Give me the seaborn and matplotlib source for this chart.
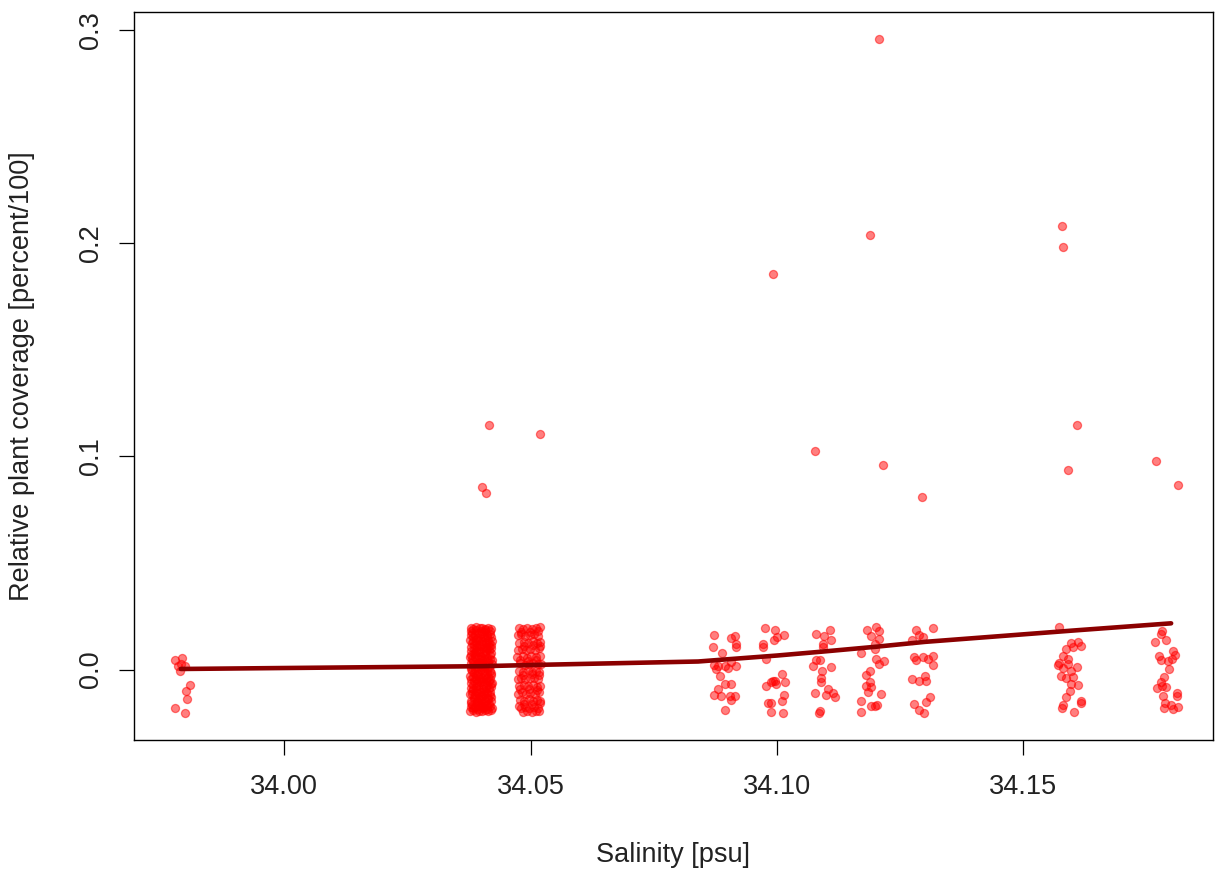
import numpy as np
import pandas as pd
import matplotlib
matplotlib.use("Agg")
import matplotlib.pyplot as plt
import seaborn as sns

# ---------------- data ----------------
sal_3398 = [33.9778, 33.9793, 33.9785, 33.9791, 33.9788, 33.9798, 33.9808, 33.9800, 33.9803, 33.9778, 33.9799]
cov_3398 = [0.0045, 0.0055, 0.0015, 0.0027, -0.0005, 0.0019, -0.0070, -0.0102, -0.0137, -0.0178, -0.0205]

sal_3404 = [
    34.0378, 34.0384, 34.0390, 34.0397, 34.0402, 34.0408, 34.0414, 34.0420,
    34.0381, 34.0387, 34.0393, 34.0399, 34.0405, 34.0411, 34.0417, 34.0379,
    34.0377, 34.0383, 34.0389, 34.0396, 34.0401, 34.0407, 34.0413, 34.0421,
    34.0380, 34.0386, 34.0392, 34.0398, 34.0404, 34.0410, 34.0416, 34.0419,
    34.0378, 34.0385, 34.0390, 34.0396, 34.0403, 34.0409, 34.0415, 34.0420,
    34.0382, 34.0388, 34.0394, 34.0400, 34.0406, 34.0412, 34.0418, 34.0377,
    34.0379, 34.0384, 34.0391, 34.0397, 34.0402, 34.0408, 34.0414, 34.0421,
    34.0381, 34.0387, 34.0393, 34.0399, 34.0405, 34.0411, 34.0417, 34.0378,
    34.0377, 34.0383, 34.0389, 34.0395, 34.0401, 34.0407, 34.0413, 34.0419,
    34.0380, 34.0386, 34.0392, 34.0398, 34.0404, 34.0410, 34.0416, 34.0421,
    34.0378, 34.0384, 34.0390, 34.0396, 34.0403, 34.0409, 34.0415, 34.0420,
    34.0382, 34.0388, 34.0394, 34.0400, 34.0406, 34.0412, 34.0418, 34.0377,
    34.0379, 34.0385, 34.0391, 34.0397, 34.0402, 34.0408, 34.0414, 34.0420,
    34.0381, 34.0387, 34.0393, 34.0399, 34.0405, 34.0411, 34.0417, 34.0378,
    34.0377, 34.0383, 34.0389, 34.0395, 34.0401, 34.0407, 34.0413, 34.0419,
    34.0415, 34.0401, 34.0409,
]
cov_3404 = [
    0.0197, 0.0191, 0.0198, 0.0193, 0.0196, 0.0190, 0.0197, 0.0192,
    0.0172, 0.0163, 0.0170, 0.0165, 0.0174, 0.0161, 0.0168, 0.0160,
    0.0141, 0.0135, 0.0144, 0.0137, 0.0132, 0.0146, 0.0139, 0.0134,
    0.0108, 0.0116, 0.0106, 0.0113, 0.0118, 0.0104, 0.0111, 0.0115,
    0.0086, 0.0079, 0.0088, 0.0081, 0.0077, 0.0085, 0.0090, 0.0078,
    0.0051, 0.0058, 0.0053, 0.0060, 0.0049, 0.0056, 0.0052, 0.0059,
    0.0030, 0.0023, 0.0031, 0.0025, 0.0029, 0.0021, 0.0033, 0.0026,
    -0.0005, 0.0003, -0.0007, 0.0001, -0.0003, 0.0004, -0.0006, 0.0002,
    -0.0028, -0.0035, -0.0026, -0.0033, -0.0037, -0.0029, -0.0034, -0.0025,
    -0.0061, -0.0054, -0.0063, -0.0056, -0.0052, -0.0060, -0.0055, -0.0062,
    -0.0084, -0.0091, -0.0082, -0.0089, -0.0093, -0.0085, -0.0088, -0.0081,
    -0.0112, -0.0118, -0.0110, -0.0120, -0.0114, -0.0109, -0.0117, -0.0113,
    -0.0146, -0.0139, -0.0148, -0.0141, -0.0137, -0.0145, -0.0140, -0.0147,
    -0.0167, -0.0174, -0.0165, -0.0172, -0.0176, -0.0168, -0.0171, -0.0173,
    -0.0195, -0.0190, -0.0197, -0.0192, -0.0194, -0.0189, -0.0196, -0.0191,
    0.1149, 0.0858, 0.0830,
]
# further readings inside the dense 34.04 block
sal_3404b = [
    34.0380, 34.0389, 34.0399, 34.0408, 34.0417,
    34.0384, 34.0394, 34.0403, 34.0412, 34.0420,
    34.0381, 34.0390, 34.0398, 34.0409, 34.0416,
    34.0385, 34.0393, 34.0404, 34.0411, 34.0419,
    34.0379, 34.0388, 34.0400, 34.0407, 34.0418,
    34.0383, 34.0395, 34.0402, 34.0413, 34.0421,
    34.0380, 34.0391, 34.0399, 34.0408, 34.0416,
    34.0386, 34.0394, 34.0403, 34.0412, 34.0420,
    34.0378, 34.0389, 34.0398, 34.0409, 34.0417,
    34.0384, 34.0393, 34.0404, 34.0411, 34.0419,
    34.0381, 34.0390, 34.0400, 34.0407, 34.0418,
    34.0385, 34.0395, 34.0402, 34.0413, 34.0420,
    34.0379, 34.0391, 34.0399, 34.0408, 34.0416,
    34.0383, 34.0394, 34.0403, 34.0412, 34.0421,
]
cov_3404b = [
    0.0182, 0.0185, 0.0179, 0.0184, 0.0180,
    0.0153, 0.0150, 0.0156, 0.0151, 0.0155,
    0.0125, 0.0128, 0.0122, 0.0127, 0.0124,
    0.0097, 0.0094, 0.0099, 0.0095, 0.0100,
    0.0069, 0.0072, 0.0066, 0.0071, 0.0067,
    0.0041, 0.0038, 0.0044, 0.0039, 0.0043,
    0.0012, 0.0015, 0.0010, 0.0014, 0.0011,
    -0.0016, -0.0019, -0.0013, -0.0018, -0.0014,
    -0.0045, -0.0042, -0.0047, -0.0043, -0.0046,
    -0.0072, -0.0075, -0.0070, -0.0074, -0.0069,
    -0.0101, -0.0098, -0.0103, -0.0099, -0.0104,
    -0.0129, -0.0132, -0.0126, -0.0131, -0.0127,
    -0.0157, -0.0154, -0.0159, -0.0155, -0.0160,
    -0.0182, -0.0185, -0.0180, -0.0184, -0.0181,
]

sal_3405 = [
    34.0476, 34.0485, 34.0493, 34.0502, 34.0511, 34.0519,
    34.0480, 34.0489, 34.0498, 34.0506, 34.0515, 34.0474,
    34.0477, 34.0486, 34.0495, 34.0504, 34.0512, 34.0520,
    34.0482, 34.0490, 34.0499, 34.0508, 34.0516, 34.0475,
    34.0473, 34.0484, 34.0493, 34.0501, 34.0510, 34.0519,
    34.0479, 34.0488, 34.0496, 34.0505, 34.0514, 34.0521,
    34.0476, 34.0485, 34.0494, 34.0503, 34.0511, 34.0518,
    34.0481, 34.0489, 34.0498, 34.0507, 34.0515, 34.0474,
    34.0477, 34.0486, 34.0495, 34.0504, 34.0512, 34.0520,
    34.0482, 34.0491, 34.0499, 34.0508, 34.0517, 34.0475,
    34.0478, 34.0487, 34.0496, 34.0505, 34.0513, 34.0520,
    34.0480, 34.0489, 34.0497, 34.0506, 34.0515, 34.0476,
    34.0484, 34.0493, 34.0502, 34.0510, 34.0518,
    34.0481, 34.0499, 34.0514, 34.0487, 34.0505, 34.0519,
    34.0478, 34.0495, 34.0511, 34.0484, 34.0502, 34.0517,
    34.0479, 34.0497, 34.0513, 34.0486, 34.0503, 34.0520,
    34.0520,
]
cov_3405 = [
    0.0196, 0.0191, 0.0197, 0.0189, 0.0194, 0.0198,
    0.0165, 0.0158, 0.0160, 0.0166, 0.0157, 0.0163,
    0.0125, 0.0131, 0.0124, 0.0132, 0.0127, 0.0129,
    0.0097, 0.0090, 0.0096, 0.0092, 0.0099, 0.0093,
    0.0058, 0.0064, 0.0056, 0.0062, 0.0057, 0.0063,
    0.0029, 0.0022, 0.0027, 0.0031, 0.0024, 0.0028,
    -0.0005, -0.0011, -0.0004, -0.0010, -0.0006, -0.0012,
    -0.0039, -0.0045, -0.0041, -0.0037, -0.0046, -0.0043,
    -0.0079, -0.0073, -0.0078, -0.0072, -0.0080, -0.0075,
    -0.0107, -0.0113, -0.0108, -0.0114, -0.0106, -0.0112,
    -0.0141, -0.0147, -0.0140, -0.0146, -0.0142, -0.0148,
    -0.0180, -0.0174, -0.0178, -0.0175, -0.0181, -0.0172,
    -0.0197, -0.0193, -0.0198, -0.0194, -0.0196,
    0.0178, 0.0176, 0.0181, 0.0111, 0.0114, 0.0109,
    0.0045, 0.0042, 0.0047, -0.0024, -0.0021, -0.0026,
    -0.0093, -0.0090, -0.0095, -0.0160, -0.0163, -0.0158,
    0.1106,
]

sal_3409 = [34.0873, 34.0907, 34.0914, 34.0916, 34.0916, 34.0871, 34.0889, 34.0873,
            34.0881, 34.0894, 34.0900, 34.0917, 34.0885, 34.0880, 34.0895, 34.0906,
            34.0873, 34.0887, 34.0904, 34.0914, 34.0907, 34.0894, 34.0877, 34.0907]
cov_3409 = [0.0164, 0.0149, 0.0156, 0.0122, 0.0105, 0.0108, 0.0078, 0.0022,
            0.0019, 0.0019, 0.0006, 0.0019, -0.0028, -0.0091, -0.0067, -0.0067,
            -0.0117, -0.0122, -0.0122, -0.0125, -0.0141, -0.0189, 0.0003, 0.0034]

sal_3410 = [34.0975, 34.0996, 34.1014, 34.1000, 34.0994, 34.0971, 34.0971, 34.0978,
            34.1010, 34.0995, 34.0988, 34.0978, 34.1017, 34.0998, 34.1015, 34.1010,
            34.0988, 34.0981, 34.0987, 34.1013, 34.0992, 34.0991]
cov_3410 = [0.0195, 0.0188, 0.0164, 0.0151, 0.0141, 0.0120, 0.0105, 0.0050,
            -0.0020, -0.0052, -0.0059, -0.0075, -0.0059, -0.0067, -0.0119, -0.0145,
            -0.0156, -0.0156, -0.0200, -0.0205, -0.0052, 0.1857]

sal_3411 = [34.1080, 34.1107, 34.1096, 34.1110, 34.1094, 34.1093, 34.1080, 34.1088,
            34.1074, 34.1110, 34.1092, 34.1090, 34.1090, 34.1077, 34.1104, 34.1100,
            34.1114, 34.1117, 34.1088, 34.1086, 34.1078]
cov_3411 = [0.0167, 0.0188, 0.0156, 0.0141, 0.0120, 0.0105, 0.0047, 0.0047,
            0.0019, 0.0011, -0.0005, -0.0041, -0.0059, -0.0109, -0.0091, -0.0119,
            -0.0109, -0.0130, -0.0192, -0.0203, 0.1027]

sal_3412 = [34.1182, 34.1201, 34.1208, 34.1191, 34.1208, 34.1198, 34.1171, 34.1198,
            34.1201, 34.1218, 34.1207, 34.1189, 34.1181, 34.1188, 34.1181, 34.1191,
            34.1184, 34.1211, 34.1171, 34.1191, 34.1204, 34.1198, 34.1171,
            34.1188, 34.1208, 34.1216]
cov_3412 = [0.0188, 0.0198, 0.0183, 0.0159, 0.0144, 0.0120, 0.0078, 0.0097,
            0.0050, 0.0042, 0.0027, -0.0005, -0.0025, -0.0059, -0.0078, -0.0083,
            -0.0103, -0.0114, -0.0145, -0.0172, -0.0166, -0.0172, -0.0197,
            0.2039, 0.2958, 0.0961]

sal_3413 = [34.1282, 34.1316, 34.1288, 34.1274, 34.1296, 34.1279, 34.1282, 34.1297,
            34.1306, 34.1316, 34.1316, 34.1275, 34.1288, 34.1301, 34.1303, 34.1311,
            34.1303, 34.1279, 34.1289, 34.1299, 34.1295]
cov_3413 = [0.0188, 0.0194, 0.0163, 0.0141, 0.0151, 0.0058, 0.0047, 0.0058,
            0.0050, 0.0062, 0.0022, -0.0044, -0.0052, -0.0028, -0.0052, -0.0130,
            -0.0150, -0.0161, -0.0188, -0.0203, 0.0811]

sal_3416 = [34.1573, 34.1597, 34.1610, 34.1617, 34.1587, 34.1601, 34.1580, 34.1572,
            34.1590, 34.1608, 34.1580, 34.1597, 34.1576, 34.1587, 34.1601, 34.1610,
            34.1597, 34.1594, 34.1587, 34.1581, 34.1579, 34.1617, 34.1617, 34.1603,
            34.1570, 34.1590, 34.1579, 34.1581, 34.1591, 34.1608]
cov_3416 = [0.0198, 0.0125, 0.0128, 0.0113, 0.0097, 0.0105, 0.0066, 0.0031,
            0.0027, 0.0011, 0.0006, -0.0005, -0.0028, -0.0041, -0.0036, -0.0072,
            -0.0067, -0.0098, -0.0130, -0.0166, -0.0181, -0.0145, -0.0156, -0.0197,
            0.0022, 0.0050, 0.2082, 0.1983, 0.0938, 0.1149]

sal_3418 = [34.1781, 34.1779, 34.1768, 34.1790, 34.1803, 34.1807, 34.1776, 34.1779,
            34.1793, 34.1802, 34.1796, 34.1786, 34.1779, 34.1772, 34.1781, 34.1790,
            34.1783, 34.1811, 34.1811, 34.1788, 34.1799, 34.1786, 34.1813, 34.1803,
            34.1770, 34.1813]
cov_3418 = [0.0183, 0.0167, 0.0131, 0.0141, 0.0089, 0.0069, 0.0062, 0.0047,
            0.0042, 0.0050, 0.0003, -0.0036, -0.0056, -0.0088, -0.0075, -0.0083,
            -0.0122, -0.0109, -0.0125, -0.0156, -0.0166, -0.0181, -0.0177, -0.0184,
            0.0980, 0.0867]

# fitted curve
fit_salinity = [33.979, 34.040, 34.051, 34.084, 34.100, 34.110, 34.120, 34.130, 34.160, 34.180]
fit_coverage = [0.0003, 0.0016, 0.0022, 0.0038, 0.0066, 0.0086, 0.0107, 0.0130, 0.0183, 0.0217]

x_ticks = [34.00, 34.05, 34.10, 34.15]
x_tick_labels = ["34.00", "34.05", "34.10", "34.15"]
y_ticks = [0.0, 0.1, 0.2, 0.3]
y_tick_labels = ["0.0", "0.1", "0.2", "0.3"]

salinity = (sal_3398 + sal_3404 + sal_3404b + sal_3405 + sal_3409 + sal_3410 + sal_3411
            + sal_3412 + sal_3413 + sal_3416 + sal_3418)
coverage = (cov_3398 + cov_3404 + cov_3404b + cov_3405 + cov_3409 + cov_3410 + cov_3411
            + cov_3412 + cov_3413 + cov_3416 + cov_3418)
df = pd.DataFrame({"salinity": salinity, "coverage": coverage})
fit = pd.DataFrame({"salinity": fit_salinity, "coverage": fit_coverage})

# ---------------- plot ----------------
sns.set_style("ticks")
plt.rcParams["font.family"] = ["Liberation Sans", "DejaVu Sans"]
FS = 19.5

fig = plt.figure(figsize=(12.16, 8.77), dpi=100)
ax = fig.add_axes([134 / 1216, 1 - 740 / 877, (1213 - 134) / 1216, (740 - 12) / 877])

sns.scatterplot(data=df, x="salinity", y="coverage", ax=ax, color="#FF0000",
                alpha=0.5, s=34, edgecolor="#FF0000", linewidth=0.9, legend=False)
sns.lineplot(data=fit, x="salinity", y="coverage", ax=ax, color="#8B0000",
             linewidth=3.3, sort=False, estimator=None)

ax.set_xlim(33.9695, 34.1885)
ax.set_ylim(-0.033, 0.3083)
ax.set_xticks(x_ticks)
ax.set_xticklabels(x_tick_labels)
ax.set_yticks(y_ticks)
ax.set_yticklabels(y_tick_labels, rotation=90, va="center")

for sp in ax.spines.values():
    sp.set_visible(True)
    sp.set_color("black")
    sp.set_linewidth(1.0)

ax.tick_params(axis="both", direction="out", length=10.5, width=0.9,
               colors="black", labelsize=FS, labelcolor="#222222")
ax.tick_params(axis="x", pad=14)
ax.tick_params(axis="y", pad=11)

ax.set_xlabel("Salinity [psu]", fontsize=FS, color="#222222")
ax.set_ylabel("Relative plant coverage [percent/100]", fontsize=FS, color="#222222")
ax.xaxis.set_label_coords(0.5, (740 - 855) / 728)
ax.xaxis.label.set_va("center")
ax.yaxis.set_label_coords((22 - 134) / 1079, 0.5)
ax.yaxis.label.set_va("center")

fig.savefig("out.png", dpi=100)
